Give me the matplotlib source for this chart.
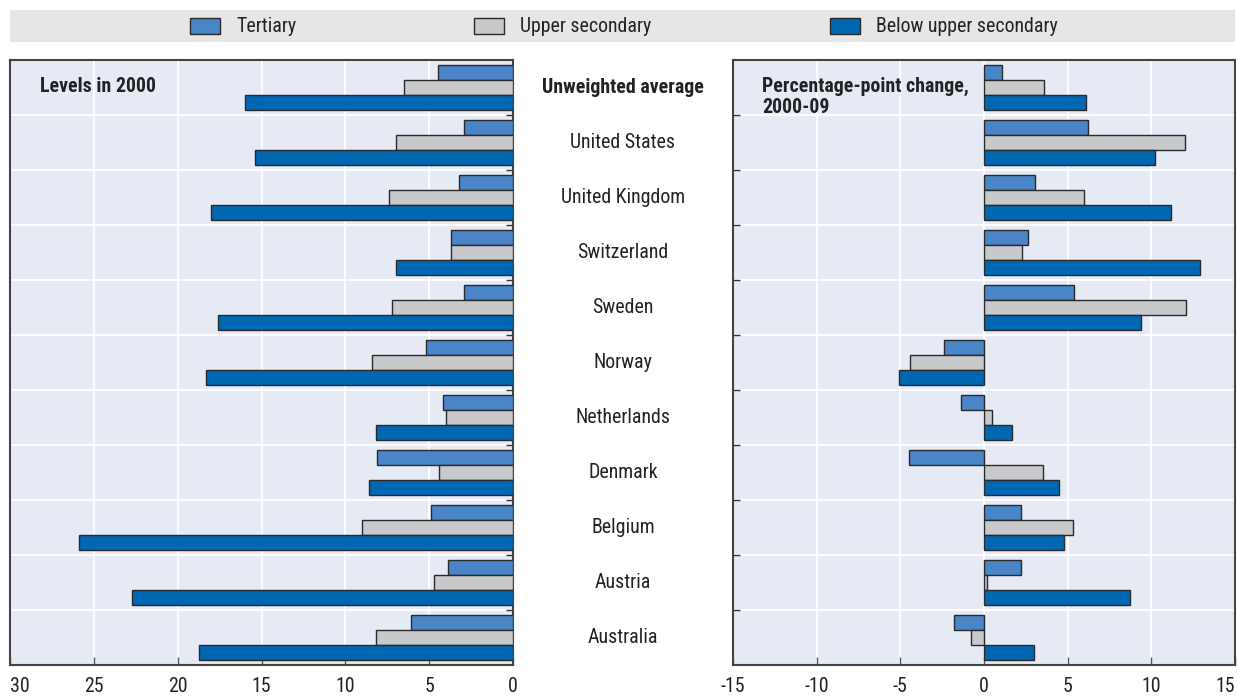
import numpy as np
import matplotlib
matplotlib.use("Agg")
import matplotlib.pyplot as plt
from matplotlib.patches import Rectangle
from matplotlib import font_manager

names = set(f.name for f in font_manager.fontManager.ttflist)
fam = [n for n in ['Roboto Condensed', 'Liberation Sans Narrow', 'Roboto', 'Liberation Sans'] if n in names]
plt.rcParams['font.family'] = fam + ['DejaVu Sans']
narrow = fam[0] in ('Roboto Condensed', 'Liberation Sans Narrow')

countries = ["Unweighted average", "United States", "United Kingdom", "Switzerland", "Sweden",
             "Norway", "Netherlands", "Denmark", "Belgium", "Austria", "Australia"]
series = ["Tertiary", "Upper secondary", "Below upper secondary"]

# levels in 2000
lev_ter = [4.5, 2.9, 3.2, 3.7, 2.95, 5.2, 4.2, 8.1, 4.9, 3.9, 6.1]
lev_upp = [6.5, 7.0, 7.4, 3.7, 7.2, 8.4, 4.0, 4.4, 9.0, 4.7, 8.2]
lev_bel = [16.0, 15.4, 18.0, 7.0, 17.6, 18.3, 8.2, 8.6, 25.9, 22.7, 18.7]

# percentage-point change 2000-09
chg_ter = [1.1, 6.2, 3.05, 2.6, 5.4, -2.4, -1.4, -4.5, 2.2, 2.2, -1.8]
chg_upp = [3.6, 12.0, 6.0, 2.3, 12.1, -4.4, 0.5, 3.5, 5.3, 0.2, -0.8]
chg_bel = [6.1, 10.2, 11.2, 12.9, 9.4, -5.1, 1.7, 4.5, 4.8, 8.7, 3.0]

colors = ["#4a86c7", "#c8c9cb", "#0068b3"]
bg = "#e6eaf5"
edge = "#2a2a2a"
fs = 14.3 if narrow else 12

W, H = 1237, 698
fig = plt.figure(figsize=(W / 100, H / 100), dpi=100)

def fx(px):
    return px / W

def fy(py):
    return 1 - py / H

axL = fig.add_axes([fx(10), fy(665), fx(503), 605 / H])
axR = fig.add_axes([fx(733), fy(665), fx(502), 605 / H])

y = np.arange(len(countries))
h = 0.273
offs = [-h, 0, h]

def draw(ax, data, xlim, ticks):
    ax.set_facecolor(bg)
    for i, vals in enumerate(data):
        ax.barh(y + offs[i], vals, height=h, color=colors[i], edgecolor=edge, linewidth=1.0, zorder=3)
    ax.set_xlim(*xlim)
    ax.set_ylim(len(countries) - 0.5, -0.5)
    ax.set_xticks(ticks)
    ax.set_yticks(np.arange(len(countries) - 1) + 0.5)
    ax.set_yticklabels([])
    ax.grid(True, color="white", linewidth=1.3, zorder=0)
    ax.set_axisbelow(True)
    ax.tick_params(axis="x", direction="in", length=6, width=1, color="#555555",
                   labelsize=fs, labelcolor="#222222", pad=9)
    ax.tick_params(axis="y", direction="in", length=5, width=1, color="#333333")
    for s in ax.spines.values():
        s.set_color("#444444")
        s.set_linewidth(1.5)

draw(axL, [lev_ter, lev_upp, lev_bel], (30, 0), [30, 25, 20, 15, 10, 5, 0])
axL.yaxis.tick_right()
draw(axR, [chg_ter, chg_upp, chg_bel], (-15, 15), [-15, -10, -5, 0, 5, 10, 15])
axR.set_xticklabels(["-15", "-10", "-5", "0", "5", "10", "15"])
axR.get_xticklabels()[-1].set_ha("right")
axL.get_xticklabels()[0].set_ha("left")

axL.text(0.06, (665 - 87) / 605, "Levels in 2000", transform=axL.transAxes, fontsize=fs,
         fontweight="bold", color="#222222", va="center", ha="left")
axR.text(0.058, (665 - 77) / 605, "Percentage-point change,\n2000-09", transform=axR.transAxes,
         fontsize=fs, fontweight="bold", color="#222222", va="top", ha="left", linespacing=1.1)

# country labels between the panels
for i, c in enumerate(countries):
    yy = axL.transData.transform((0, y[i]))[1]
    fig.text(fx(623), yy / H, c, ha="center", va="center", fontsize=fs, color="#222222",
             fontweight="bold" if i == 0 else "normal")

# legend strip
fig.patches.append(Rectangle((fx(10), fy(42)), fx(1225), 32 / H, transform=fig.transFigure,
                             facecolor="#e6e6e6", edgecolor="none", zorder=0))
leg_x = [190, 474, 830]
for i, name in enumerate(series):
    fig.patches.append(Rectangle((fx(leg_x[i]), fy(34)), fx(30), 16 / H, transform=fig.transFigure,
                                 facecolor=colors[i], edgecolor=edge, linewidth=1.0, zorder=2))
    fig.text(fx(leg_x[i] + 46), fy(27), name, ha="left", va="center", fontsize=fs, color="#222222")

fig.savefig("out.png", dpi=100)
